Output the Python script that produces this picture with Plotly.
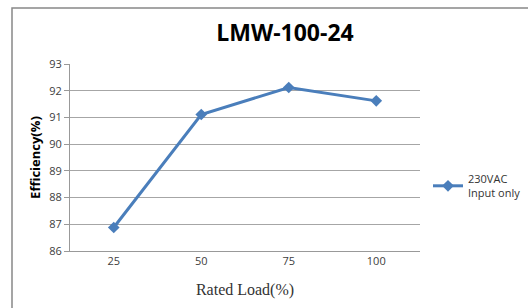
import plotly.graph_objects as go

loads = ["25", "50", "75", "100"]
efficiency = [86.88, 91.11, 92.12, 91.62]
y_ticks = [86, 87, 88, 89, 90, 91, 92, 93]
series_name = "230VAC<br>Input only"

W, H = 528, 308
PL, PR, PT, PB = 70, 420, 64, 251   # plot area in screen px
L, T = PL, PT
R = W - PR
B = H - PB
pw, ph = PR - PL, PB - PT

def px(x):
    return (x - PL) / pw

def py(y):
    return (PB - y) / ph

fig = go.Figure()
fig.add_trace(go.Scatter(
    x=loads, y=efficiency, mode="lines+markers", name=series_name,
    line=dict(color="#4A7EBB", width=3),
    marker=dict(symbol="diamond", size=9, color="#4A7EBB"),
))

fig.update_layout(
    width=W, height=H,
    margin=dict(l=L, r=R, t=T, b=B, pad=0, autoexpand=False),
    paper_bgcolor="white", plot_bgcolor="white",
    title=dict(text="<b>LMW-100-24</b>", x=285 / W, xanchor="center",
               y=1 - 33 / H, yanchor="middle", xref="container", yref="container",
               font=dict(family="Open Sans", size=23, color="black")),
    showlegend=True,
    legend=dict(x=px(428), y=py(165), xanchor="left", yanchor="top",
                font=dict(family="Open Sans", size=11, color="#333333"),
                bgcolor="rgba(0,0,0,0)", itemwidth=30, tracegroupgap=0),
    xaxis=dict(type="category", range=[-0.5, 3.5], showgrid=False, showline=True,
               automargin=False, fixedrange=True,
               linecolor="#999999", linewidth=1, ticks="",
               tickfont=dict(family="Open Sans", size=11, color="#404040"),
               title=dict(text="Rated Load(%)", standoff=16,
                          font=dict(family="Liberation Serif", size=16, color="#333333"))),
    yaxis=dict(range=[86, 93], tickvals=y_ticks, showgrid=True, automargin=False,
               fixedrange=True,
               gridcolor="#A6A6A6", gridwidth=1, showline=True,
               linecolor="#999999", linewidth=1, ticks="outside",
               ticklen=5, tickcolor="#999999", zeroline=False,
               tickfont=dict(family="Open Sans", size=11, color="#404040"),
               title=dict(text="<b>Efficiency(%)</b>", standoff=5,
                          font=dict(family="Open Sans", size=13, color="black"))),
    shapes=[dict(type="rect", xref="paper", yref="paper",
                 x0=px(12), x1=px(560), y0=py(340), y1=py(8),
                 line=dict(color="#888888", width=1.5), layer="below")],
)

css = ("var s=document.createElement('style');"
       "s.textContent='html,body{margin:0;padding:0;overflow:hidden;}';"
       "document.head.appendChild(s);")
fig.write_html("out.html", post_script=css, config={"displayModeBar": False})
